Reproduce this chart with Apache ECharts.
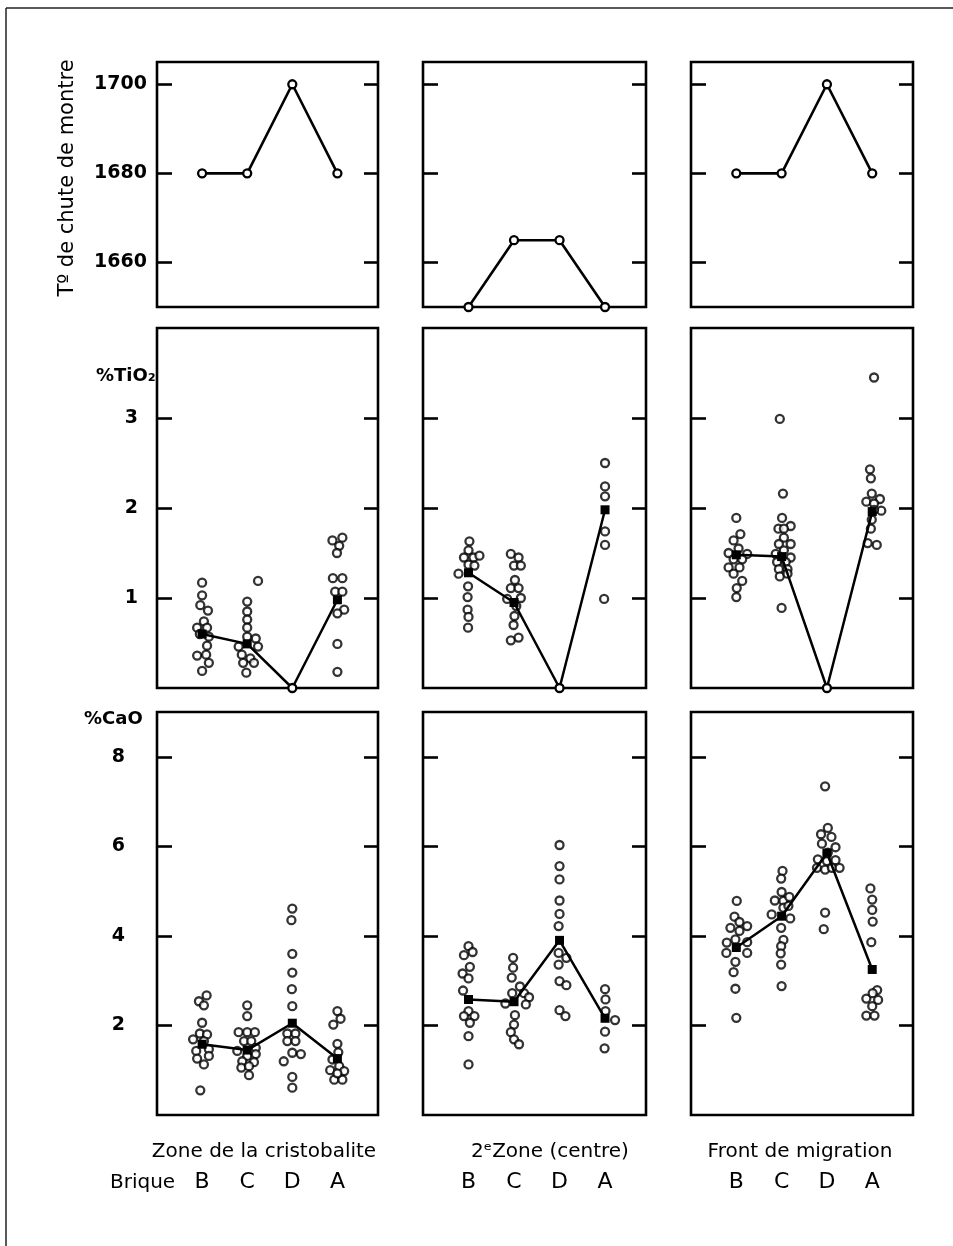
<!DOCTYPE html>
<html>
<head>
<meta charset="utf-8">
<script src="https://cdn.jsdelivr.net/npm/echarts@6/dist/echarts.min.js"></script>
<style>
  html, body { margin: 0; padding: 0; background: #fff; }
  #chart { width: 953px; height: 1246px; }
</style>
</head>
<body>
<div id="chart"></div>
<script>
// Bricks, in the order they are plotted in each zone
const bricks = ['B', 'C', 'D', 'A'];
const zones = ['Zone de la cristobalite', '2\u1D49Zone (centre)', 'Front de migration'];
const tempTicks = [1660, 1680, 1700];
const tioTicks = [1, 2, 3];
const caoTicks = [2, 4, 6, 8];

// Cone-fall temperature for each brick, per zone
const tempCristobalite = [1680, 1680, 1700, 1680];
const tempCentre = [1650, 1665, 1665, 1650];
const tempFront = [1680, 1680, 1700, 1680];

// %TiO2 — individual analyses per brick: [offset inside the column, value]
const tioCristobalite = [
  [[0,1.17],[0,1.03],[-0.04,0.92],[0.13,0.86],[0.04,0.74],[-0.11,0.67],[0.11,0.67],[-0.05,0.6],[0.15,0.57],[0.11,0.47],[-0.11,0.36],[0.09,0.37],[0.15,0.28],[0,0.19]],
  [[0.24,1.19],[0,0.96],[0,0.85],[0,0.76],[0,0.67],[0,0.57],[0.19,0.55],[-0.19,0.46],[0.24,0.46],[-0.12,0.37],[0.07,0.33],[-0.09,0.28],[0.15,0.28],[-0.02,0.17]],
  [],
  [[-0.11,1.64],[0.11,1.67],[0.04,1.58],[-0.01,1.5],[-0.1,1.22],[0.11,1.22],[-0.05,1.07],[0.11,1.07],[0.15,0.87],[0,0.83],[0,0.49],[0,0.18]]
];
const tioMeanCristobalite = [0.6, 0.49, 0, 0.98];

const tioCentre = [
  [[0.02,1.63],[0,1.53],[-0.1,1.45],[0.11,1.45],[0.24,1.47],[0,1.37],[0.13,1.36],[-0.22,1.27],[-0.01,1.13],[-0.02,1.01],[-0.02,0.87],[0,0.79],[-0.01,0.67]],
  [[-0.07,1.49],[0.1,1.45],[0,1.36],[0.15,1.36],[0.02,1.2],[-0.07,1.11],[0.1,1.11],[-0.15,0.99],[0.15,1.0],[0.05,0.91],[0.01,0.8],[-0.01,0.7],[-0.07,0.53],[0.1,0.56]],
  [],
  [[0,2.5],[0,2.24],[0,2.13],[0,1.74],[0,1.59],[-0.02,0.99]]
];
const tioMeanCentre = [1.28, 0.95, 0, 1.98];

const tioFront = [
  [[0,1.89],[0.09,1.71],[-0.06,1.64],[-0.17,1.5],[0.05,1.55],[0.24,1.49],[-0.06,1.43],[0.13,1.43],[-0.17,1.34],[0.07,1.34],[-0.06,1.27],[0.13,1.19],[0.01,1.11],[0,1.01]],
  [[-0.04,2.99],[0.03,2.16],[0.01,1.89],[0.2,1.8],[-0.07,1.77],[0.05,1.77],[0.05,1.67],[-0.06,1.6],[0.2,1.6],[0.05,1.53],[-0.13,1.49],[0.2,1.45],[-0.1,1.4],[0.09,1.4],[-0.06,1.32],[0.13,1.32],[-0.04,1.24],[0.13,1.27],[0,0.89]],
  [],
  [[0.04,3.45],[-0.05,2.43],[-0.03,2.33],[-0.01,2.16],[-0.13,2.07],[0.17,2.1],[0.04,2.05],[0.2,1.97],[0.04,1.98],[-0.01,1.87],[-0.03,1.77],[-0.1,1.61],[0.1,1.59]]
];
const tioMeanFront = [1.48, 1.46, 0, 1.96];

// %CaO — individual analyses per brick: [offset inside the column, value]
const caoCristobalite = [
  [[0.1,2.67],[-0.07,2.54],[0.04,2.45],[0,2.06],[-0.05,1.82],[0.11,1.8],[-0.2,1.69],[0.04,1.65],[-0.13,1.43],[0.15,1.47],[-0.11,1.26],[0.15,1.32],[0.04,1.13],[-0.04,0.55]],
  [[0,2.45],[0,2.21],[-0.19,1.85],[0,1.85],[0.17,1.85],[-0.07,1.65],[0.09,1.65],[0.19,1.5],[-0.22,1.43],[0,1.32],[0.19,1.36],[-0.11,1.2],[0.15,1.18],[-0.13,1.06],[0.04,1.09],[0.04,0.89]],
  [[0,4.61],[-0.02,4.35],[0,3.6],[0,3.18],[-0.01,2.81],[0,2.43],[-0.11,1.82],[0.07,1.82],[-0.11,1.65],[0.07,1.65],[0,1.39],[0.19,1.36],[-0.19,1.2],[0,0.85],[0,0.61]],
  [[0,2.32],[0.07,2.15],[-0.09,2.02],[0,1.59],[0.02,1.4],[-0.11,1.24],[-0.16,1.0],[0.04,1.09],[0.15,0.98],[-0.07,0.79],[0.11,0.79],[0,0.93]]
];
const caoMeanCristobalite = [1.58, 1.45, 2.05, 1.26];

const caoCentre = [
  [[0,3.77],[0.09,3.64],[-0.1,3.57],[0.03,3.31],[-0.13,3.16],[0,3.05],[-0.12,2.78],[0,2.32],[-0.1,2.21],[0.13,2.21],[0.03,2.06],[0,1.76],[0,1.13]],
  [[-0.02,3.51],[-0.02,3.29],[-0.05,3.07],[0.13,2.87],[-0.04,2.72],[0.22,2.72],[0.33,2.63],[-0.19,2.49],[0.26,2.47],[0.02,2.23],[0,2.02],[-0.07,1.85],[0,1.69],[0.11,1.58]],
  [[0,6.03],[0,5.56],[0,5.26],[0,4.79],[0,4.49],[-0.02,4.22],[-0.02,3.62],[0.15,3.51],[-0.02,3.36],[0,2.99],[0.15,2.9],[0,2.34],[0.13,2.21]],
  [[0,2.81],[0.01,2.58],[0.01,2.32],[0.22,2.12],[0,1.86],[-0.01,1.49]]
];
const caoMeanCentre = [2.58, 2.53, 3.9, 2.16];

const caoFront = [
  [[0.01,4.78],[-0.04,4.43],[0.07,4.31],[-0.13,4.18],[0.24,4.22],[0.07,4.11],[-0.21,3.85],[-0.02,3.92],[0.24,3.86],[-0.22,3.62],[0.24,3.62],[-0.02,3.42],[-0.06,3.19],[-0.02,2.82],[0,2.17]],
  [[0.02,5.45],[-0.01,5.28],[0,4.98],[-0.15,4.79],[0.04,4.78],[0.17,4.87],[0.04,4.63],[0.15,4.67],[-0.22,4.48],[0.19,4.39],[-0.01,4.18],[0.04,3.91],[-0.01,3.77],[-0.02,3.61],[-0.01,3.36],[0,2.88]],
  [[-0.04,7.34],[0.02,6.41],[-0.13,6.27],[0.1,6.21],[-0.11,6.06],[0.19,5.98],[0.02,5.86],[-0.2,5.71],[0,5.67],[0.19,5.69],[-0.22,5.52],[-0.04,5.48],[0.11,5.52],[0.28,5.52],[-0.04,4.52],[-0.07,4.15]],
  [[-0.04,5.06],[0,4.81],[0,4.58],[0.01,4.32],[-0.02,3.86],[0.11,2.79],[-0.13,2.6],[0.01,2.72],[0.13,2.57],[0,2.43],[-0.13,2.22],[0.05,2.22]]
];
const caoMeanFront = [3.74, 4.44, 5.85, 3.25];

// ---- layout ----
const FONT = 'DejaVu Sans, Liberation Sans, sans-serif';
const colLeft = [157, 423, 691];
const colWidth = [221, 223, 222];
const rowTop = [62, 328, 712];
const rowHeight = [245, 360, 403];
const rowAxis = [
  { min: 1650, max: 1705, ticks: tempTicks, margin: 10 },
  { min: 0, max: 4, ticks: tioTicks, margin: 19 },
  { min: 0, max: 9, ticks: caoTicks, margin: 32 }
];
const temps = [tempCristobalite, tempCentre, tempFront];
const tioPoints = [tioCristobalite, tioCentre, tioFront];
const tioMeans = [tioMeanCristobalite, tioMeanCentre, tioMeanFront];
const caoPoints = [caoCristobalite, caoCentre, caoFront];
const caoMeans = [caoMeanCristobalite, caoMeanCentre, caoMeanFront];

const grid = [], xAxis = [], yAxis = [], series = [];
const openCircle = { color: '#fff', borderColor: '#000', borderWidth: 2.3 };

for (let r = 0; r < 3; r++) {
  for (let c = 0; c < 3; c++) {
    const g = grid.length;
    grid.push({
      left: colLeft[c], top: rowTop[r], width: colWidth[c], height: rowHeight[r],
      show: true, borderColor: '#000', borderWidth: 2.6, backgroundColor: 'transparent'
    });
    xAxis.push({
      gridIndex: g, type: 'value', min: 0, max: 4.9,
      axisLine: { show: false }, axisTick: { show: false }, splitLine: { show: false },
      axisLabel: r === 2 ? {
        show: true, customValues: [1, 2, 3, 4], margin: 56,
        formatter: v => bricks[Math.round(v) - 1] || '',
        fontFamily: FONT, fontSize: 22, color: '#000'
      } : { show: false }
    });
    const ax = rowAxis[r];
    yAxis.push({
      gridIndex: g, type: 'value', position: 'left', min: ax.min, max: ax.max,
      axisLine: { show: false }, splitLine: { show: false },
      axisTick: { show: true, inside: true, length: 15, customValues: ax.ticks, lineStyle: { color: '#000', width: 2.6 } },
      axisLabel: {
        show: c === 0, customValues: ax.ticks, margin: ax.margin,
        formatter: v => String(v),
        fontFamily: FONT, fontSize: 19, fontWeight: 'bold', color: '#000'
      }
    });
    yAxis.push({
      gridIndex: g, type: 'value', position: 'right', min: ax.min, max: ax.max,
      axisLine: { show: false }, splitLine: { show: false },
      axisTick: { show: true, inside: true, length: 14, customValues: ax.ticks, lineStyle: { color: '#000', width: 2.6 } },
      axisLabel: { show: false }
    });
    const yi = 2 * g;

    if (r === 0) {
      series.push({
        type: 'line', xAxisIndex: g, yAxisIndex: yi, clip: false, z: 5,
        data: temps[c].map((v, i) => [i + 1, v]),
        symbol: 'circle', symbolSize: 8, itemStyle: openCircle,
        lineStyle: { color: '#000', width: 2.6 }
      });
    } else {
      const pts = r === 1 ? tioPoints[c] : caoPoints[c];
      const means = r === 1 ? tioMeans[c] : caoMeans[c];
      const scatterData = [];
      pts.forEach((col, i) => col.forEach(p => scatterData.push([i + 1 + p[0], p[1]])));
      series.push({
        type: 'scatter', xAxisIndex: g, yAxisIndex: yi, clip: false, z: 3,
        data: scatterData, symbol: 'circle', symbolSize: 8, itemStyle: openCircle
      });
      series.push({
        type: 'line', xAxisIndex: g, yAxisIndex: yi, clip: false, z: 6,
        lineStyle: { color: '#000', width: 2.5 },
        data: means.map((v, i) => v === 0
          ? { value: [i + 1, v], symbol: 'circle', symbolSize: 8, itemStyle: openCircle }
          : { value: [i + 1, v], symbol: 'rect', symbolSize: 9, itemStyle: { color: '#000', borderWidth: 0 } })
      });
    }
  }
}

const chart = echarts.init(document.getElementById('chart'), null, { renderer: 'canvas' });
chart.setOption({
  backgroundColor: '#fff',
  animation: false,
  grid, xAxis, yAxis, series,
  graphic: [
    { type: 'line', shape: { x1: 6, y1: 8, x2: 953, y2: 8 }, style: { stroke: '#222', lineWidth: 1.5 } },
    { type: 'line', shape: { x1: 6, y1: 8, x2: 6, y2: 1246 }, style: { stroke: '#222', lineWidth: 1.5 } },
    { type: 'text', x: 68, y: 178, rotation: Math.PI / 2,
      style: { text: 'T\u00BA de chute de montre', font: '21px ' + FONT, fill: '#000', align: 'center', verticalAlign: 'middle' } },
    { type: 'text', x: 96, y: 376,
      style: { text: '%TiO\u2082', font: 'bold 18px ' + FONT, fill: '#000', verticalAlign: 'middle' } },
    { type: 'text', x: 84, y: 719,
      style: { text: '%CaO', font: 'bold 18px ' + FONT, fill: '#000', verticalAlign: 'middle' } },
    { type: 'text', x: 264, y: 1152,
      style: { text: zones[0], font: '20px ' + FONT, fill: '#000', align: 'center', verticalAlign: 'middle' } },
    { type: 'text', x: 550, y: 1152,
      style: { text: zones[1], font: '20px ' + FONT, fill: '#000', align: 'center', verticalAlign: 'middle' } },
    { type: 'text', x: 800, y: 1152,
      style: { text: zones[2], font: '20px ' + FONT, fill: '#000', align: 'center', verticalAlign: 'middle' } },
    { type: 'text', x: 110, y: 1183,
      style: { text: 'Brique', font: '20px ' + FONT, fill: '#000', verticalAlign: 'middle' } }
  ]
});
</script>
</body>
</html>
